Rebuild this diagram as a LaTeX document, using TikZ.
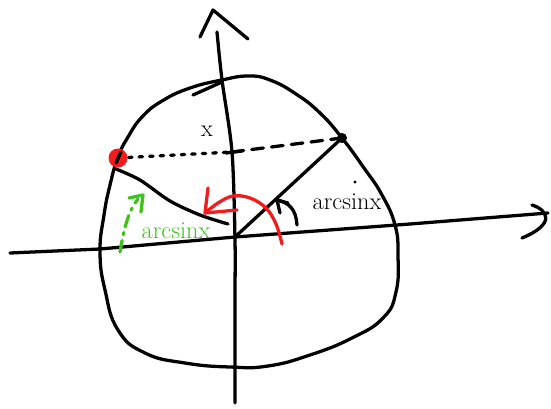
\documentclass[tikz,border=0pt]{standalone}
\usepackage{tikz}
\usetikzlibrary{arrows.meta, positioning, calc}
\definecolor{flip}{HTML}{F21C1C}
\definecolor{hint}{HTML}{3FC21F}

\begin{document}
\begin{tikzpicture}[x=0.03cm, y=-0.03cm, font=\huge, line width=2.8pt, line cap=round, line join=round]
      \useasboundingbox (0,0) rectangle (551,408);
      \coordinate (O) at (235,237);
      \coordinate (P) at (342,138);
      \coordinate (Q) at (118,158);
      \coordinate (Y) at (232,152);
      % axes
      \draw (10,253) -- (100,249) -- (O) -- (410,224) -- (548,213);
      \draw (532,205) .. controls (548,210) and (556,224) .. (522,238);
      \draw plot[smooth, tension=0.5] coordinates {(235,403) (235,300) (235,240) (232,152) (222,80) (217,32)};
      \draw (200,37) -- (213,10) -- (248,39);
      % the circle
      \draw plot[smooth cycle, tension=0.8] coordinates {(222,80) (248,76) (270,80) (296,94) (320,113) (342,138) (364,168) (382,195) (395,225) (398,255) (396,292) (383,318) (352,338) (310,355) (268,366) (230,367) (185,363) (145,353) (118,330) (105,290) (100,252) (104,215) (110,185) (118,157) (128,137) (142,117) (162,101) (190,88)};
      \draw (193,95) -- (222,82);
      % chord through the two points
      \draw[dash pattern=on 3pt off 6pt] (Q) -- (Y);
      \draw[dash pattern=on 10pt off 7pt] (Y) -- (P);
      \draw (226,153) -- (242,151);
      \node (xlab) at (207,131) {x};
      \draw (O) -- (P);
      \fill (P) circle (5);
      \draw plot[smooth, tension=0.5] coordinates {(116,169) (140,180) (170,201) (200,215) (228,224)};
      \fill[flip] (Q) circle (9.5);
      \draw (116,163) -- (121,152);
      % angles
      \draw[flip] plot[smooth, tension=0.6] coordinates {(282,244) (276,224) (266,208) (250,198) (233,196) (218,203) (205,213)};
      \draw[flip] (208,188) -- (205,213) -- (237,210);
      \draw (297,225) .. controls (296,210) and (290,203) .. (277,200);
      \draw (288,203) -- (277,200) -- (280,213);
      \node (sinr) at (347,202) {arcsinx};
      \fill (355,182) circle (1.6);
      \draw[hint, dash pattern=on 10pt off 5pt on 2pt off 5pt] (120,252) .. controls (123,235) and (127,212) .. (138,199);
      \draw[hint] (129,198) -- (143,195) -- (141,212);
      \node[hint] (sinl) at (176,231) {arcsinx};
    \end{tikzpicture}
\end{document}
